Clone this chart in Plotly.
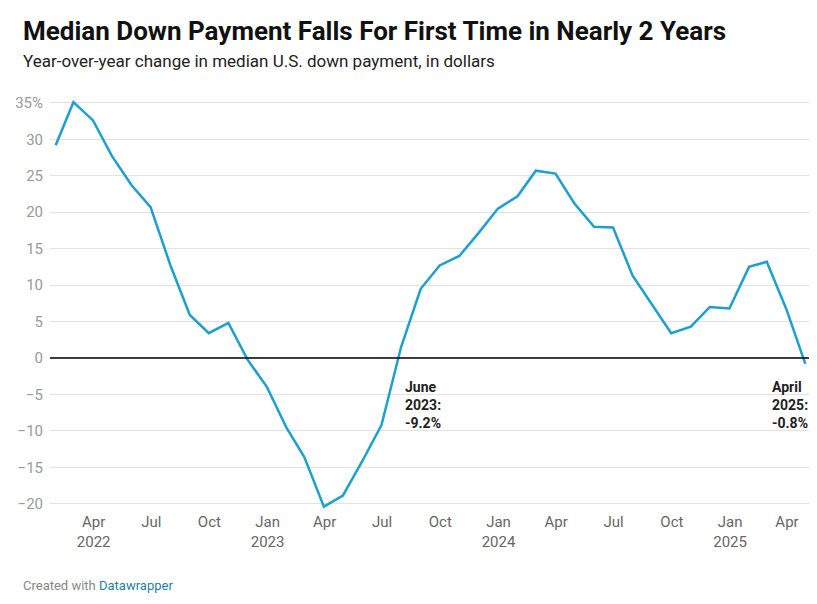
import pandas as pd
import plotly.graph_objects as go

# month-end dates, Jan 2022 .. Apr 2025
dates = pd.date_range("2022-01-31", "2025-04-30", freq="ME")
yoy_change = [29.2, 35.1, 32.6, 27.7, 23.7, 20.7, 12.8, 5.9, 3.4, 4.8, -0.2, -4.0,
              -9.6, -13.6, -20.4, -18.9, -14.1, -9.2, 1.5, 9.5, 12.7, 14.0, 17.1, 20.5,
              22.2, 25.7, 25.3, 21.2, 18.0, 17.9, 11.3, 7.3, 3.4, 4.3, 7.0, 6.8,
              12.5, 13.2, 6.7, -0.8]

y_ticks = [35, 30, 25, 20, 15, 10, 5, 0, -5, -10, -15, -20]
y_labels = ["35%"] + [str(v).replace("-", "\u2212") for v in y_ticks[1:]]
x_ticks = ["2022-04-01", "2022-07-01", "2022-10-01", "2023-01-01", "2023-04-01", "2023-07-01",
           "2023-10-01", "2024-01-01", "2024-04-01", "2024-07-01", "2024-10-01", "2025-01-01",
           "2025-04-01"]
x_labels = ["Apr<br>2022", "Jul", "Oct", "Jan<br>2023", "Apr", "Jul", "Oct", "Jan<br>2024",
            "Apr", "Jul", "Oct", "Jan<br>2025", "Apr"]

fig = go.Figure()
fig.add_trace(go.Scatter(x=dates, y=yoy_change, mode="lines",
                         line=dict(color="#1d9fcf", width=2.5), hoverinfo="x+y"))

fig.add_hline(y=0, line=dict(color="black", width=1.5))

fig.add_annotation(x="2023-06-30", y=-2.6, text="<b>June<br>2023:<br>-9.2%</b>", showarrow=False,
                   xanchor="left", yanchor="top", align="left", xshift=22,
                   font=dict(size=14, color="#222"))
fig.add_annotation(x="2025-04-30", y=-2.6, text="<b>April<br>2025:<br>-0.8%</b>", showarrow=False,
                   xanchor="right", yanchor="top", align="left", xshift=5,
                   font=dict(size=14, color="#222"))

fig.update_layout(
    width=817, height=604,
    margin=dict(l=38, r=7, t=84, b=101),
    paper_bgcolor="white", plot_bgcolor="white",
    font=dict(family="Roboto", color="#333"),
    showlegend=False,
    xaxis=dict(range=["2022-01-22", "2025-05-20"], tickvals=x_ticks, ticktext=x_labels,
               showgrid=False, zeroline=False, ticks="", tickfont=dict(size=15, color="#666")),
    yaxis=dict(range=[-21, 36.5], tickvals=y_ticks, ticktext=y_labels, showgrid=True,
               gridcolor="#e2e2e2", zeroline=False, ticks="", ticklabelstandoff=6,
               tickfont=dict(size=15, color="#999")),
)

fig.add_annotation(xref="paper", yref="paper", x=-0.038, y=1.145, xanchor="left", yanchor="middle",
                   showarrow=False, text="<b>Median Down Payment Falls For First Time in Nearly 2 Years</b>",
                   font=dict(size=26, color="#111"))
fig.add_annotation(xref="paper", yref="paper", x=-0.038, y=1.075, xanchor="left", yanchor="middle",
                   showarrow=False, text="Year-over-year change in median U.S. down payment, in dollars",
                   font=dict(size=17, color="#222"))
fig.add_annotation(xref="paper", yref="paper", x=-0.038, y=-0.155, xanchor="left", yanchor="top",
                   showarrow=False, text="Created with <span style='color:#1d81a2'>Datawrapper</span>",
                   font=dict(size=13, color="#888"))

fig.write_html("out.html")
